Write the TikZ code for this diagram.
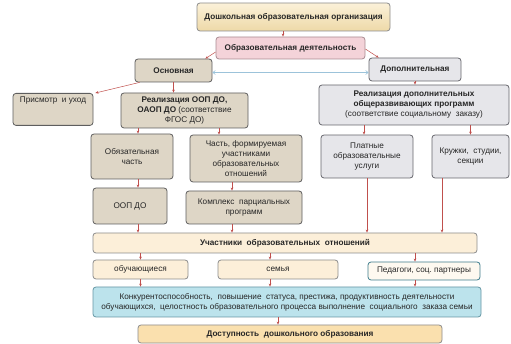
\documentclass[tikz,border=0pt]{standalone}
\usepackage{fontspec}
\setmainfont{Liberation Sans}
\usetikzlibrary{arrows.meta}

\definecolor{arrred}{HTML}{C0504D}
\definecolor{arrblue}{HTML}{9CC3DA}
\definecolor{tanA}{HTML}{FBF1D9}
\definecolor{tanB}{HTML}{EED9A8}
\definecolor{pinkfill}{HTML}{F4D3D9}
\definecolor{pinkline}{HTML}{A98C92}
\definecolor{burlapfill}{HTML}{DED6C6}
\definecolor{burlapline}{HTML}{5E5E5E}
\definecolor{marblefill}{HTML}{E6E6EA}
\definecolor{marbleline}{HTML}{66666C}
\definecolor{peachfill}{HTML}{FCEFD9}
\definecolor{peachline}{HTML}{8C8C8C}
\definecolor{tealline}{HTML}{3E7C8C}
\definecolor{aquafill}{HTML}{BCE3EC}
\definecolor{orangefill}{HTML}{FAE0AE}
\definecolor{txt}{HTML}{262626}

\tikzset{
  blk/.style={rounded corners=3pt, align=center, inner sep=1pt, line width=0.8pt,
    text=txt, font=\fontsize{8.2}{10}\selectfont},
  burlap/.style={blk, draw=burlapline, fill=burlapfill},
  marble/.style={blk, draw=marbleline, fill=marblefill},
  peach/.style={blk, draw=peachline, fill=peachfill},
  arr/.style={draw=arrred, line width=0.5pt, -{Stealth[length=3pt,width=2.6pt]}},
  blu/.style={draw=arrblue, line width=0.6pt, {Straight Barb[length=2.5pt,width=4pt]}-{Straight Barb[length=2.5pt,width=4pt]}}
}

\begin{document}
\begin{tikzpicture}[x=1pt,y=-1pt]
			%%%%% START %%%%%
			\useasboundingbox (0,0) rectangle (511,344);
			
			% top level
			\node[blk, draw=peachline, top color=tanA, bottom color=tanB, minimum width=193pt, minimum height=28pt] (org) at (293.5,17) {\textbf{Дошкольная образовательная организация}};
			\node[blk, draw=pinkline, fill=pinkfill, minimum width=149pt, minimum height=22pt] (deyat) at (290.5,48) {\textbf{Образовательная деятельность}};
			
			\node[burlap, minimum width=77pt, minimum height=23pt] (osn) at (173.5,70.5) {\textbf{Основная}};
			\node[marble, minimum width=92pt, minimum height=23pt] (dop) at (415,69.5) {\textbf{Дополнительная}};
			
			% left branch
			\node[burlap, anchor=north, minimum width=80pt, inner ysep=3.5pt, text height=6pt, text depth=19pt] (prism) at (53,93) {Присмотр\ \ и уход};
			\node[burlap, minimum width=127pt, minimum height=35pt] (realOOP) at (184.5,110.5) {\textbf{Реализация ООП ДО,}\\\textbf{ОАОП ДО} (соответствие\\ФГОС ДО)};
			\node[burlap, minimum width=82pt, minimum height=45pt] (obyaz) at (132,156.5) {Обязательная\\часть};
			\node[burlap, minimum width=112pt, minimum height=47pt] (chast) at (246,158.5) {Часть, формируемая\\участниками\\образовательных\\отношений};
			\node[burlap, minimum width=74pt, minimum height=36pt] (oop) at (130,206) {ООП ДО};
			\node[burlap, minimum width=116pt, minimum height=33pt] (kompl) at (244,207.5) {Комплекс\ \ парциальных\\программ};
			
			% right branch
			\node[marble, minimum width=190pt, minimum height=40pt] (realDop) at (414,105) {\textbf{Реализация дополнительных}\\\textbf{общеразвивающих программ}\\(соответствие социальному\ \ заказу)};
			\node[marble, minimum width=92pt, minimum height=43pt] (platn) at (367,156.5) {Платные\\образовательные\\услуги};
			\node[marble, minimum width=77pt, minimum height=43pt] (kruzh) at (470.5,156.5) {Кружки,\ \ студии,\\секции};
			
			% bottom
			\node[peach, minimum width=384pt, minimum height=20pt] (uchast) at (285,243) {\textbf{Участники\ \ образовательных\ \ отношений}};
			\node[peach, minimum width=95pt, minimum height=19pt] (obuch) at (140.5,269.5) {обучающиеся};
			\node[peach, minimum width=120pt, minimum height=19pt] (semya) at (278,269.5) {семья};
			\node[blk, draw=tealline, fill=peachfill!40, minimum width=112pt, minimum height=18pt] (pedag) at (424,271) {Педагоги,\ соц.\ партнеры};
			\node[blk, draw=tealline!80, fill=aquafill, minimum width=388pt, minimum height=30pt] (konk) at (287,302) {Конкурентоспособность,\ \ повышение\ \ статуса,\ престижа,\ продуктивность\ деятельности\\обучающихся,\ \ целостность\ образовательного\ процесса\ выполнение\ \ социального\ \ заказа\ семьи};
			\node[blk, draw=peachline, fill=orangefill, minimum width=304pt, minimum height=18pt] (dostup) at (290,334) {\textbf{Доступность\ \ дошкольного образования}};
			
			% connectors
			\draw[arr] ([xshift=-7.5pt]deyat.north |- org.south) -- ([xshift=-7.5pt]deyat.north);
			\draw[arr] ([yshift=-4pt]deyat.west) -- ([xshift=-7pt]osn.north east);
			\draw[arr] ([yshift=-1pt]deyat.east) -- ([xshift=10pt]dop.north west);
			\draw[blu] ([yshift=-2pt]osn.east) -- ([yshift=-2pt]osn.east -| dop.west);
			
			\draw[arr] ([xshift=5pt]osn.south west) -- ([xshift=2pt]prism.north east);
			\draw[arr] (osn.south) -- (osn.south |- realOOP.north);
			\draw[arr] ([xshift=6pt]obyaz.north |- realOOP.south) -- ([xshift=6pt]obyaz.north);
			\draw[arr] ([xshift=-27pt]chast.north |- realOOP.south) -- ([xshift=-27pt]chast.north);
			\draw[arr] ([xshift=8pt]oop.north |- obyaz.south) -- ([xshift=8pt]oop.north);
			\draw[arr] ([xshift=-12pt]kompl.north |- chast.south) -- ([xshift=-12pt]kompl.north);
			\draw[arr] ([xshift=8pt]oop.south) -- ([xshift=8pt]oop.south |- uchast.north);
			\draw[arr] ([xshift=-12pt]kompl.south) -- ([xshift=-12pt]kompl.south |- uchast.north);
			
			\draw[arr] (dop.south) -- (dop.south |- realDop.north);
			\draw[arr] ([xshift=-3pt]platn.north |- realDop.south) -- ([xshift=-3pt]platn.north);
			\draw[arr] (kruzh.north |- realDop.south) -- (kruzh.north);
			\draw[arr] (platn.south) -- (platn.south |- uchast.north);
			\draw[arr] ([xshift=-28.5pt]kruzh.south) -- ([xshift=-28.5pt]kruzh.south |- uchast.north);
			
			\draw[arr] (obuch.north |- uchast.south) -- (obuch.north);
			\draw[arr] ([xshift=-8pt]semya.north |- uchast.south) -- ([xshift=-8pt]semya.north);
			\draw[arr] ([xshift=-9pt]pedag.north |- uchast.south) -- ([xshift=-9pt]pedag.north);
			\draw[arr] (obuch.south) -- (obuch.south |- konk.north);
			\draw[arr] ([xshift=-8pt]semya.south) -- ([xshift=-8pt]semya.south |- konk.north);
			\draw[arr] ([xshift=-9pt]pedag.south) -- ([xshift=-9pt]pedag.south |- konk.north);
			\draw[arr] ([xshift=-12pt]dostup.north |- konk.south) -- ([xshift=-12pt]dostup.north);
			
			%%%%% END %%%%%
		\end{tikzpicture}
\end{document}
